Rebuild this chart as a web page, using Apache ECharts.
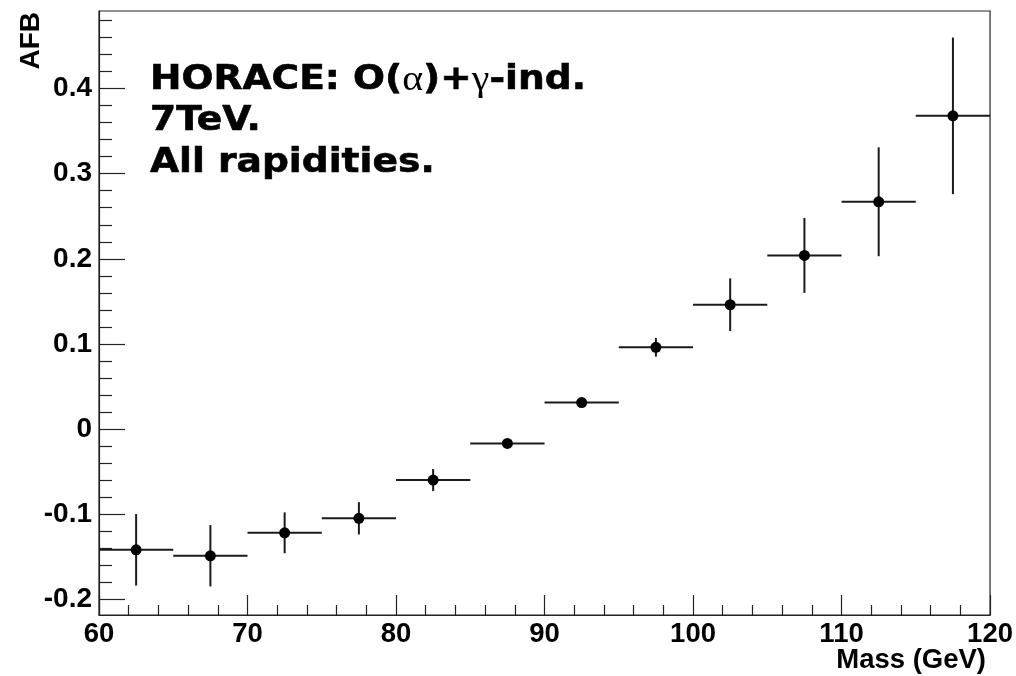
<!DOCTYPE html>
<html>
<head>
<meta charset="utf-8">
<script src="https://cdn.jsdelivr.net/npm/echarts@6/dist/echarts.min.js"></script>
<style>
html,body{margin:0;padding:0;background:#fff;}
#chart{width:1016px;height:676px;}
</style>
</head>
<body>
<div id="chart"></div>
<script>
// ---- data ----
const massCenters = [62.5, 67.5, 72.5, 77.5, 82.5, 87.5, 92.5, 97.5, 102.5, 107.5, 112.5, 117.5];
const binHalfWidth = [2.5, 2.5, 2.5, 2.5, 2.5, 2.5, 2.5, 2.5, 2.5, 2.5, 2.5, 2.5];
const afbValues = [-0.142, -0.149, -0.122, -0.105, -0.060, -0.017, 0.031, 0.096, 0.146, 0.204, 0.267, 0.368];
const afbErrors = [0.042, 0.036, 0.024, 0.019, 0.013, 0.005, 0.004, 0.011, 0.031, 0.044, 0.064, 0.092];
const xTicks = [60, 70, 80, 90, 100, 110, 120];
const yTicks = [-0.2, -0.1, 0, 0.1, 0.2, 0.3, 0.4];
const yRange = [-0.2186, 0.4912];
const xTitle = 'Mass (GeV)';
const yTitle = 'AFB';
const noteLines = ['HORACE: O(α)+γ-ind.', '7TeV.', 'All rapidities.'];

// minor y ticks (5 subdivisions per major step)
const yMinor = [];
for (let i = -1; i < yTicks.length; i++) {
  const base = i < 0 ? yTicks[0] - 0.1 : yTicks[i];
  for (let k = 1; k < 5; k++) {
    const v = Math.round((base + k * 0.02) * 1000) / 1000;
    if (v > yRange[0] && v < yRange[1]) yMinor.push(v);
  }
}

const seriesData = massCenters.map((m, i) => [m, afbValues[i], afbErrors[i], binHalfWidth[i]]);

const chart = echarts.init(document.getElementById('chart'), null, {renderer: 'canvas'});
const lineCol = '#1a1a1a';
const axisFont = 'Liberation Sans, Arial, sans-serif';

// rich-text version of note lines: Greek letters in a serif face
function toRich(s) {
  let out = '', buf = '';
  for (const ch of s) {
    if (/[α-ω]/.test(ch)) {
      if (buf) { out += '{b|' + buf + '}'; buf = ''; }
      out += '{g|' + ch + '}';
    } else buf += ch;
  }
  if (buf) out += '{b|' + buf + '}';
  return out;
}
const noteFont = {fill: '#000', fontFamily: 'DejaVu Sans', fontWeight: 'bold', fontSize: 33, lineHeight: 33,
  stroke: '#000', lineWidth: 0.6};
const noteRich = {
  b: noteFont,
  g: {fill: '#000', fontFamily: 'Liberation Serif', fontWeight: 'normal', fontSize: 35, lineHeight: 33}
};
const noteY = [64, 105, 147];

chart.setOption({
  animation: false,
  backgroundColor: '#fff',
  grid: {left: 99, right: 25, top: 11, bottom: 61, show: true, borderColor: '#222', borderWidth: 1.2, containLabel: false},
  xAxis: {
    type: 'value', min: xTicks[0], max: xTicks[xTicks.length - 1], interval: 10,
    axisLine: {show: true, onZero: false, lineStyle: {color: '#222', width: 1.2}},
    axisTick: {show: true, inside: true, length: 20, lineStyle: {color: '#222', width: 1.2}},
    minorTick: {show: true, splitNumber: 5, length: 10, lineStyle: {color: '#222', width: 1.2}},
    splitLine: {show: false},
    axisLabel: {show: true, margin: 5, color: '#000', fontFamily: axisFont, fontWeight: 'bold', fontSize: 27.5,
      formatter: v => String(v)}
  },
  yAxis: [{
    type: 'value', position: 'left', min: yRange[0], max: yRange[1],
    axisLine: {show: true, onZero: false, lineStyle: {color: '#222', width: 1.2}},
    axisTick: {show: true, inside: true, length: 26, customValues: yTicks, lineStyle: {color: '#222', width: 1.2}},
    splitLine: {show: false},
    axisLabel: {show: true, margin: 7, customValues: yTicks, color: '#000', fontFamily: axisFont, fontWeight: 'bold', fontSize: 28,
      formatter: v => String(Math.round(v * 10) / 10)}
  }, {
    type: 'value', position: 'left', min: yRange[0], max: yRange[1],
    axisLine: {show: false, onZero: false},
    axisTick: {show: true, inside: true, length: 13, customValues: yMinor, lineStyle: {color: '#222', width: 1.2}},
    splitLine: {show: false},
    axisLabel: {show: false}
  }],
  series: [{
    type: 'custom',
    xAxisIndex: 0, yAxisIndex: 0,
    data: seriesData,
    clip: false,
    renderItem: function (params, api) {
      const x = api.value(0), y = api.value(1), e = api.value(2), hw = api.value(3);
      const c = api.coord([x, y]);
      const l = api.coord([x - hw, y]);
      const r = api.coord([x + hw, y]);
      const t = api.coord([x, y + e]);
      const b = api.coord([x, y - e]);
      return {
        type: 'group',
        children: [
          {type: 'line', shape: {x1: l[0], y1: l[1], x2: r[0], y2: r[1]}, style: {stroke: lineCol, lineWidth: 2}},
          {type: 'line', shape: {x1: t[0], y1: t[1], x2: b[0], y2: b[1]}, style: {stroke: lineCol, lineWidth: 2}},
          {type: 'circle', shape: {cx: c[0], cy: c[1], r: 5.5}, style: {fill: '#000'}}
        ]
      };
    }
  }],
  graphic: [
    {type: 'text', x: 986, y: 646, style: {text: xTitle, align: 'right', verticalAlign: 'top', fill: '#000',
      font: 'bold 27.5px Liberation Sans, Arial, sans-serif'}},
    {type: 'text', x: 17, y: 12, rotation: Math.PI / 2, style: {text: yTitle, align: 'right', verticalAlign: 'top', fill: '#000',
      font: 'bold 28px Liberation Sans, Arial, sans-serif'}}
  ].concat(noteLines.map((s, i) => ({
    type: 'text', x: 150, y: noteY[i], scaleX: 1.14, scaleY: 1,
    style: {text: toRich(s), verticalAlign: 'top', rich: noteRich}
  })))
});
</script>
</body>
</html>
